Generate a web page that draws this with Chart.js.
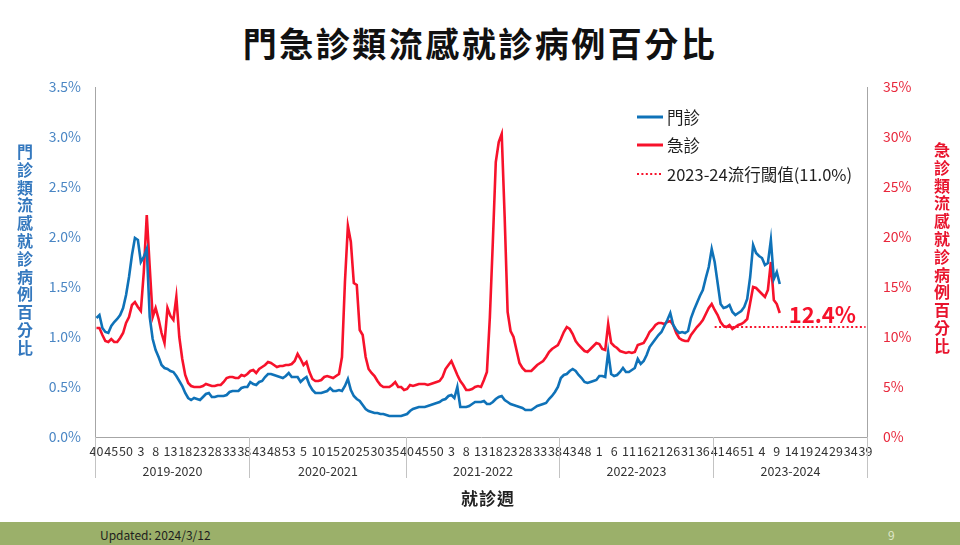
<!DOCTYPE html>
<html>
<head>
<meta charset="utf-8">
<script src="https://cdn.jsdelivr.net/npm/chart.js@4.4.1/dist/chart.umd.min.js"></script>
<style>
  body { margin: 0; width: 960px; height: 545px; overflow: hidden; background: #fff; position: relative;
         font-family: "Noto Sans CJK TC", "Noto Sans", sans-serif; }
  #title { position: absolute; left: 0; top: 18px; width: 960px; text-align: center;
           font-size: 34px; font-weight: bold; letter-spacing: 2.5px; color: #111; }
  .ytitle { position: absolute; writing-mode: vertical-rl; text-orientation: upright;
            font-size: 16px; line-height: 1; letter-spacing: 1.8px; font-weight: bold; }
  #ytitleL { left: 17px; top: 144px; color: #3478be; }
  #ytitleR { left: 934px; top: 142px; color: #e8142d; }
  #xtitle { position: absolute; left: 430px; width: 116px; top: 485px; text-align: center;
            font-size: 17px; font-weight: bold; letter-spacing: 1px; color: #222; }
  #wrap { position: absolute; left: 0; top: 0; width: 960px; height: 520px; }
  #footer { position: absolute; left: 0; top: 522px; width: 960px; height: 23px; background: #9bb06a; }
  #updated { position: absolute; left: 100px; top: 4px; font-size: 12px; color: #1e1e1e; }
  #page { position: absolute; left: 888px; top: 4px; font-size: 12px; color: #dfe6c9; }
</style>
</head>
<body>
<div id="title">門急診類流感就診病例百分比</div>
<div id="wrap"><canvas id="grafico"></canvas></div>
<div class="ytitle" id="ytitleL">門診類流感就診病例百分比</div>
<div class="ytitle" id="ytitleR">急診類流感就診病例百分比</div>
<div id="xtitle">就診週</div>
<div id="footer"><span id="updated">Updated: 2024/3/12</span><span id="page">9</span></div>
<script>
// week numbers of each season
var seasons = ['2019-2020', '2020-2021', '2021-2022', '2022-2023', '2023-2024'];
var weeks1920 = [40,41,42,43,44,45,46,47,48,49,50,51,52,1,2,3,4,5,6,7,8,9,10,11,12,13,14,15,16,17,18,19,20,21,22,23,24,25,26,27,28,29,30,31,32,33,34,35,36,37,38,39];
var weeks2021 = [40,41,42,43,44,45,46,47,48,49,50,51,52,53,1,2,3,4,5,6,7,8,9,10,11,12,13,14,15,16,17,18,19,20,21,22,23,24,25,26,27,28,29,30,31,32,33,34,35,36,37,38,39];
var weeks2122 = [40,41,42,43,44,45,46,47,48,49,50,51,52,1,2,3,4,5,6,7,8,9,10,11,12,13,14,15,16,17,18,19,20,21,22,23,24,25,26,27,28,29,30,31,32,33,34,35,36,37,38,39];
var weeks2223 = [40,41,42,43,44,45,46,47,48,49,50,51,52,1,2,3,4,5,6,7,8,9,10,11,12,13,14,15,16,17,18,19,20,21,22,23,24,25,26,27,28,29,30,31,32,33,34,35,36,37,38,39];
var weeks2324 = [40,41,42,43,44,45,46,47,48,49,50,51,52,1,2,3,4,5,6,7,8,9,10,11,12,13,14,15,16,17,18,19,20,21,22,23,24,25,26,27,28,29,30,31,32,33,34,35,36,37,38,39];
var seasonWeeks = [weeks1920, weeks2021, weeks2122, weeks2223, weeks2324];

// 門診 (%), left axis
var outpatient = [
  1.19,1.22,1.09,1.05,1.04,1.11,1.15,1.18,1.22,1.29,
  1.42,1.60,1.82,1.99,1.97,1.75,1.80,1.88,1.20,0.98,
  0.87,0.80,0.72,0.69,0.68,0.66,0.65,0.61,0.56,0.51,
  0.44,0.39,0.37,0.39,0.38,0.37,0.40,0.43,0.44,0.40,
  0.40,0.41,0.41,0.41,0.42,0.45,0.46,0.46,0.46,0.49,
  0.50,0.50,0.55,0.53,0.52,0.55,0.56,0.60,0.63,0.63,
  0.62,0.61,0.60,0.59,0.61,0.64,0.60,0.60,0.60,0.55,
  0.58,0.60,0.52,0.47,0.44,0.44,0.44,0.45,0.46,0.49,
  0.46,0.46,0.47,0.46,0.51,0.58,0.47,0.41,0.38,0.36,
  0.32,0.28,0.26,0.25,0.24,0.24,0.23,0.23,0.22,0.21,
  0.21,0.21,0.21,0.21,0.22,0.23,0.26,0.28,0.29,0.30,
  0.30,0.30,0.31,0.32,0.33,0.34,0.35,0.37,0.38,0.41,
  0.42,0.39,0.50,0.30,0.30,0.30,0.31,0.33,0.35,0.35,
  0.35,0.36,0.33,0.33,0.35,0.38,0.40,0.41,0.37,0.35,
  0.33,0.32,0.31,0.30,0.29,0.27,0.27,0.27,0.29,0.31,
  0.32,0.33,0.34,0.38,0.41,0.45,0.50,0.59,0.62,0.63,
  0.66,0.68,0.66,0.62,0.59,0.55,0.54,0.55,0.56,0.57,
  0.61,0.61,0.60,0.85,0.63,0.61,0.62,0.65,0.69,0.65,
  0.65,0.67,0.69,0.78,0.73,0.76,0.82,0.90,0.94,0.98,
  1.02,1.05,1.11,1.17,1.24,1.12,1.07,1.04,1.05,1.04,
  1.06,1.19,1.27,1.34,1.41,1.47,1.59,1.70,1.88,1.75,
  1.54,1.33,1.29,1.30,1.32,1.25,1.22,1.24,1.26,1.30,
  1.38,1.60,1.92,1.84,1.81,1.79,1.72,1.74,1.97,1.58,
  1.65,1.53
];

// 急診 (%), right axis
var emergency = [
  10.9,10.9,10.2,9.6,9.5,9.8,9.5,9.5,9.9,10.4,
  11.4,12.0,13.2,13.5,13.0,12.6,16.5,22.2,17.0,12.0,
  12.9,11.8,10.4,9.4,12.9,12.1,11.7,14.0,10.0,7.8,
  6.2,5.4,5.1,5.0,5.0,5.0,5.1,5.3,5.2,5.1,
  5.1,5.2,5.2,5.5,5.9,6.0,6.0,5.9,5.9,6.2,
  6.1,6.3,6.6,6.7,6.4,6.8,7.0,7.2,7.5,7.4,
  7.2,7.0,7.1,7.1,7.2,7.2,7.3,7.6,8.3,7.8,
  7.2,7.5,6.5,5.8,5.6,5.6,5.7,6.0,6.1,6.0,
  5.9,6.1,6.3,8.0,15.5,21.1,19.5,15.4,15.2,10.7,
  10.2,8.0,6.8,6.4,6.1,5.6,5.2,5.0,5.0,5.0,
  5.2,5.5,5.0,5.0,4.7,4.8,5.2,5.1,5.2,5.3,
  5.3,5.3,5.2,5.3,5.4,5.5,5.6,6.0,6.8,7.2,
  7.6,6.9,6.2,5.6,5.2,4.7,4.7,4.8,5.0,5.1,
  5.0,5.7,6.5,12.0,19.5,27.5,29.5,30.3,22.0,12.5,
  10.6,10.0,8.7,7.4,6.9,6.6,6.6,6.6,6.9,7.2,
  7.4,7.6,8.0,8.5,8.8,9.0,9.2,9.8,10.5,11.0,
  10.8,10.3,9.6,9.2,8.9,8.6,8.5,8.8,9.1,9.4,
  9.3,8.8,8.7,11.3,9.4,9.1,8.9,8.6,8.5,8.4,
  8.5,8.4,8.5,9.2,9.3,9.4,9.9,10.5,10.8,11.2,
  11.4,11.4,11.3,11.5,11.6,11.2,10.4,9.9,9.7,9.6,
  9.6,10.2,10.6,11.0,11.3,11.7,12.3,12.9,13.3,12.7,
  12.2,11.5,11.1,11.0,11.2,10.8,11.0,11.2,11.3,11.5,
  11.8,13.4,15.0,14.9,14.6,14.3,14.0,14.7,17.5,13.7,
  13.3,12.4
];

// 2023-24 流行閾值
var threshold = 11.0;
var thresholdSeason = '2023-2024';

var leftTicks = [0, 0.5, 1.0, 1.5, 2.0, 2.5, 3.0, 3.5];
var rightTicks = [0, 5, 10, 15, 20, 25, 30, 35];

var corAzul = '#0f72b8';
var corVermelho = '#f7122b';

var categorias = [].concat.apply([], seasonWeeks).map(String);
var inicioTemporada = [];
var acumulado = 0;
seasonWeeks.forEach(function(w) { inicioTemporada.push(acumulado); acumulado += w.length; });
var inicioLimiar = inicioTemporada[seasons.indexOf(thresholdSeason)];
var linhaLimiar = categorias.map(function(c, i) { return i >= inicioLimiar ? threshold : null; });

var fonte = '"Noto Sans CJK TC", "Noto Sans", sans-serif';

// season dividers and names under the axis
var temporadasPlugin = {
  id: 'temporadas',
  afterDraw: function(chart) {
    var ctx = chart.ctx, x = chart.scales.x, area = chart.chartArea;
    ctx.save();
    ctx.strokeStyle = '#c3c3c3';
    ctx.lineWidth = 1;
    ctx.fillStyle = '#333';
    ctx.font = '12.5px ' + fonte;
    ctx.textAlign = 'center';
    ctx.textBaseline = 'middle';
    seasons.forEach(function(nome, k) {
      var a = inicioTemporada[k];
      var b = a + seasonWeeks[k].length;
      var xa = Math.round(x.getPixelForValue(a - 0.5)) + 0.5;
      var xb = Math.round(x.getPixelForValue(b - 0.5)) + 0.5;
      ctx.beginPath();
      ctx.moveTo(xa, area.bottom);
      ctx.lineTo(xa, area.bottom + 41);
      ctx.moveTo(xb, area.bottom);
      ctx.lineTo(xb, area.bottom + 41);
      ctx.stroke();
      ctx.fillText(nome, (xa + xb) / 2, area.bottom + 34);
    });
    ctx.restore();
  }
};

// legend inside the plot and label at the last emergency point
var legendaPlugin = {
  id: 'legenda',
  afterDraw: function(chart) {
    var ctx = chart.ctx, area = chart.chartArea;
    var x0 = area.right - 230;
    var ys = [area.top + 30, area.top + 58, area.top + 87];
    ctx.save();
    ctx.font = '16.5px ' + fonte;
    ctx.textBaseline = 'middle';
    ctx.fillStyle = '#1e1e1e';
    chart.data.datasets.forEach(function(ds, i) {
      ctx.beginPath();
      ctx.strokeStyle = ds.borderColor;
      ctx.lineWidth = i === 2 ? 2.2 : 3;
      ctx.setLineDash(i === 2 ? [2, 2.4] : []);
      ctx.moveTo(x0, ys[i]);
      ctx.lineTo(x0 + 26, ys[i]);
      ctx.stroke();
      ctx.fillText(ds.label, x0 + 30, ys[i] + 1);
    });
    ctx.setLineDash([]);
    var meta = chart.getDatasetMeta(1);
    var ultimo = meta.data[meta.data.length - 1];
    ctx.font = 'bold 22px ' + fonte;
    ctx.fillStyle = corVermelho;
    ctx.fillText(emergency[emergency.length - 1].toFixed(1) + '%', ultimo.x + 9, ultimo.y + 2);
    ctx.restore();
  }
};

var primeiroGrafico = document.getElementById('grafico');
var chart = new Chart(primeiroGrafico, {
  type: 'line',
  data: {
    labels: categorias,
    datasets: [{
      label: '門診',
      data: outpatient,
      yAxisID: 'y',
      borderColor: corAzul,
      borderWidth: 2.6,
      pointRadius: 0,
      tension: 0
    }, {
      label: '急診',
      data: emergency,
      yAxisID: 'y1',
      borderColor: corVermelho,
      borderWidth: 2.6,
      pointRadius: 0,
      tension: 0
    }, {
      label: '2023-24流行閾值(' + threshold.toFixed(1) + '%)',
      data: linhaLimiar,
      yAxisID: 'y1',
      borderColor: corVermelho,
      borderWidth: 2.2,
      borderDash: [2, 2.4],
      pointRadius: 0,
      spanGaps: false
    }]
  },
  options: {
    responsive: true,
    maintainAspectRatio: false,
    animation: false,
    layout: { padding: { top: 87, left: 0, right: 0, bottom: 0 } },
    plugins: { legend: { display: false }, tooltip: { enabled: false } },
    scales: {
      x: {
        type: 'category',
        offset: true,
        grid: { display: false, drawTicks: false },
        border: { color: '#a6a6a6' },
        ticks: {
          autoSkip: false, maxRotation: 0, padding: 7, color: '#333',
          font: { size: 12.5, family: fonte },
          callback: function(v, i) { return i % 5 === 0 ? this.getLabelForValue(v) : ''; }
        },
        afterFit: function(s) { s.height = 83; }
      },
      y: {
        position: 'left',
        min: 0, max: 3.5,
        grid: { display: false, drawTicks: false },
        border: { color: '#a6a6a6' },
        afterBuildTicks: function(s) { s.ticks = leftTicks.map(function(v) { return { value: v }; }); },
        ticks: {
          padding: 14, color: '#4a86c4',
          font: { size: 14, family: fonte },
          callback: function(v) { return v.toFixed(1) + '%'; }
        },
        afterFit: function(s) { s.width = 95; }
      },
      y1: {
        position: 'right',
        min: 0, max: 35,
        grid: { display: false, drawTicks: false },
        border: { color: '#a6a6a6' },
        afterBuildTicks: function(s) { s.ticks = rightTicks.map(function(v) { return { value: v }; }); },
        ticks: {
          padding: 16, color: '#e8283c',
          font: { size: 14, family: fonte },
          callback: function(v) { return v + '%'; }
        },
        afterFit: function(s) { s.width = 93; }
      }
    }
  },
  plugins: [temporadasPlugin, legendaPlugin]
});
</script>
</body>
</html>
